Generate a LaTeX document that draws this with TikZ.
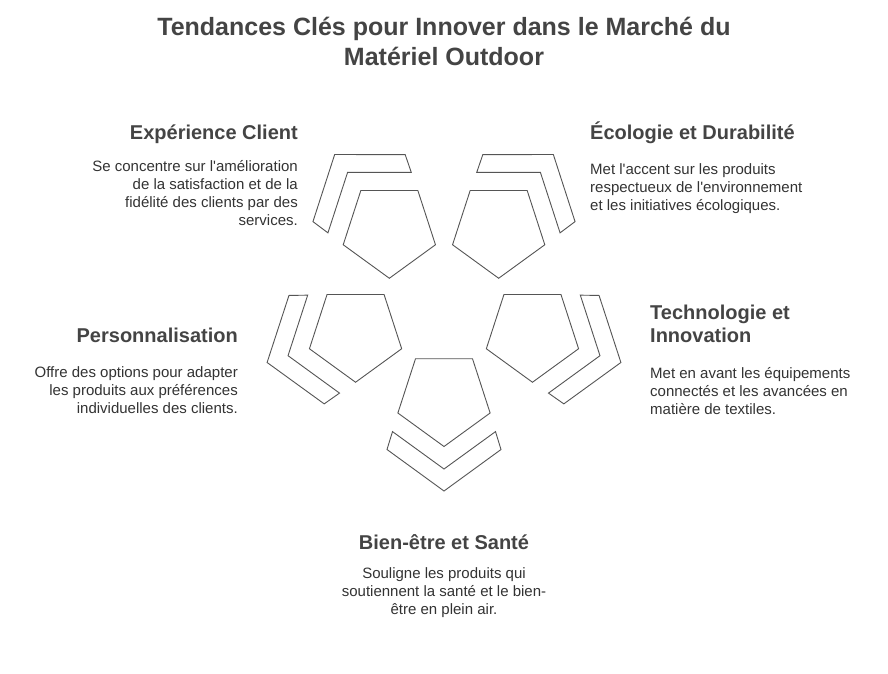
\documentclass[tikz,border=0pt]{standalone}
\usepackage{fontspec}
\setmainfont{Liberation Sans}
\definecolor{ink}{HTML}{444444}
\definecolor{bodytxt}{HTML}{333333}
\definecolor{edge}{HTML}{555555}
\newcommand{\sq}{\textquotesingle}
\begin{document}
\begin{tikzpicture}[x=1pt,y=1pt,
  pent/.style={draw=edge, line width=0.9pt, line join=miter},
  band/.style={draw=edge, line width=0.9pt, line join=miter},
  ttl/.style={font=\bfseries\fontsize{25}{30}\selectfont, text=ink, inner sep=0, align=center},
  head/.style={font=\bfseries\fontsize{20}{23}\selectfont, text=ink, inner sep=0},
  desc/.style={font=\fontsize{15}{18}\selectfont, text=bodytxt, inner sep=0}]
\useasboundingbox (0,0) rectangle (888,-673);
\fill[white] (0,0) rectangle (888,-673);
\coordinate (O) at (444,-305);
\foreach \nm/\ang/\k in {tl/126/3, tr/54/2, ml/198/4, mr/-18/1, b/270/0}{
  \path (O) ++(\ang:93) coordinate (\nm);
  \begin{scope}[shift={(\nm)}]
    \draw[pent] (-90:48.5) -- (-18:48.5) -- (54:48.5) -- (126:48.5) -- (198:48.5) -- cycle;
    \begin{scope}[rotate=\k*72]
      \draw[band] (-57,-51.5) -- (0,-93) -- (57,-51.5) -- (51.5,-33.6) -- (0,-71) -- (-51.5,-33.6) -- cycle;
    \end{scope}
  \end{scope}
}
% title
\node[ttl, anchor=north] (title) at (444,-16.5) {Tendances Clés pour Innover dans le Marché du\\Matériel Outdoor};
% Expérience Client
\node[head, anchor=base east] (h1) at (298,-139) {Expérience Client};
\node[desc, anchor=north east, align=right] (d1) at (298,-160) {Se concentre sur l\sq amélioration\\de la satisfaction et de la\\fidélité des clients par des\\services.};
% Ecologie
\node[head, anchor=base west] (h2) at (590,-139) {Écologie et Durabilité};
\node[desc, anchor=north west, align=left] (d2) at (590,-163) {Met l\sq accent sur les produits\\respectueux de l\sq environnement\\et les initiatives écologiques.};
% Personnalisation
\node[head, anchor=base east] (h3) at (238,-342.5) {Personnalisation};
\node[desc, anchor=north east, align=right] (d3) at (238,-366) {Offre des options pour adapter\\les produits aux préférences\\individuelles des clients.};
% Technologie
\node[head, anchor=north west, align=left] (h4) at (650,-305) {Technologie et\\Innovation};
\node[desc, anchor=north west, align=left] (d4) at (650,-367) {Met en avant les équipements\\connectés et les avancées en\\matière de textiles.};
% Bien-etre
\node[head, anchor=base] (h5) at (444,-549) {Bien-être et Santé};
\node[desc, anchor=north, align=center] (d5) at (444,-567) {Souligne les produits qui\\soutiennent la santé et le bien-\\être en plein air.};
\end{tikzpicture}
\end{document}
